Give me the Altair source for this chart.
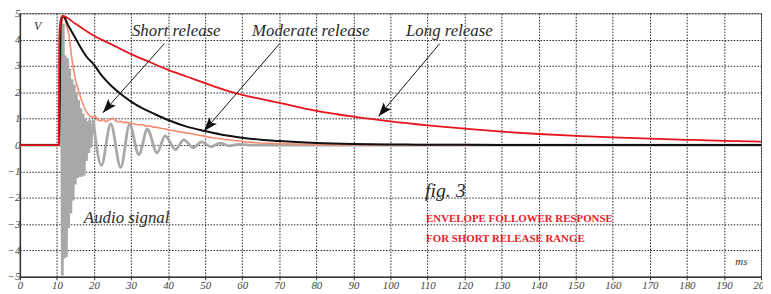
import altair as alt
import pandas as pd

# ---------------- data ----------------
# Long release (red)
t_red = [0, 10.5, 10.6, 11.0, 11.5, 15, 20, 25, 30, 35, 40, 45, 50, 55, 60, 65, 70, 80, 90,
         100, 110, 120, 130, 140, 150, 160, 170, 180, 190, 200]
v_red = [0, 0, 4.0, 4.75, 4.9, 4.6, 4.15, 3.8, 3.45, 3.15, 2.85, 2.6, 2.35, 2.1, 1.9, 1.75, 1.6,
         1.3, 1.08, 0.9, 0.75, 0.62, 0.51, 0.42, 0.35, 0.29, 0.24, 0.2, 0.16, 0.13]

# Moderate release (black)
t_blk = [0, 10.6, 11.0, 11.6, 12, 13, 14, 15, 16, 18, 20, 22, 25, 28, 30, 33, 36, 40, 45, 50,
         55, 60, 65, 70, 80, 90, 100, 120, 140, 200]
v_blk = [0, 0, 4.6, 4.9, 4.85, 4.55, 4.3, 4.05, 3.8, 3.35, 3.05, 2.65, 2.2, 1.85, 1.65, 1.4,
         1.2, 0.95, 0.7, 0.53, 0.38, 0.28, 0.2, 0.15, 0.08, 0.04, 0.02, 0.01, 0, 0]

# Short release (orange)
t_org = [0, 10.6, 11.0, 11.6, 12.2, 13.2, 14.1, 15.0, 16.3, 17.6, 18.5, 19.0, 19.6, 20.3, 21.0,
         21.8, 22.5, 23.2, 24.0, 25.0, 25.8, 26.5, 27.3, 28.0, 29.0, 30.0, 31.0, 32.0, 33.0,
         34.0, 35.0, 36.0, 37.0, 38.0, 39.0, 40.0, 42.0, 44.0, 46.0, 48.0, 50.0, 52.0, 55.0,
         58.0, 61.0, 65.0, 70.0, 80.0, 90.0, 200.0]
v_org = [0, 0, 4.5, 4.9, 4.75, 4.2, 3.2, 2.46, 1.84, 1.34, 1.15, 1.09, 1.05, 1.12, 0.95,
         0.92, 0.97, 0.88, 0.95, 1.02, 0.93, 0.88, 0.9, 0.85, 0.86, 0.82, 0.8, 0.77, 0.78,
         0.72, 0.73, 0.68, 0.67, 0.64, 0.62, 0.58, 0.53, 0.48, 0.44, 0.38, 0.33, 0.28, 0.22,
         0.17, 0.12, 0.08, 0.05, 0.02, 0.0, 0.0]

# Audio signal (grey): initial burst
t_burst = [0, 10.9, 11.2, 11.45, 11.7, 11.95, 12.25, 12.55, 12.85, 13.15, 13.45, 13.75, 14.05,
           14.35, 14.65, 14.95, 15.25, 15.55, 15.85, 16.15, 16.45, 16.75, 17.05, 17.35, 17.65,
           17.95, 18.25, 18.55, 18.85, 19.15, 19.5, 19.8]
v_burst = [0, 0, 4.85, -4.95, 4.6, -4.3, 3.4, -4.25, 3.3, -3.15, 2.9, -2.6, 2.5, -2.1, 2.3,
           -1.5, 2.0, -1.25, 1.7, -1.2, 1.4, -1.2, 1.2, -1.15, 1.0, -0.6, 0.9, -0.3, 0.95,
           -0.1, 0.5, 0.95]
# Audio signal (grey): ringing tail, peaks and troughs
t_ring = [19.8, 22.0, 24.5, 27.2, 29.6, 32.1, 34.4, 37.0, 39.2, 42.0, 44.2, 46.8, 49.0, 51.5,
          54.0, 56.5, 59.0, 62.0, 65.0, 200.0]
v_ring = [0.95, -0.77, 0.8, -0.85, 0.78, -0.36, 0.6, -0.3, 0.35, -0.17, 0.2, -0.1, 0.12, -0.06,
          0.07, -0.03, 0.03, 0.0, 0.0, 0.0]

# Arrows (start -> tip, data coordinates) and head angles
arrow_x = [39.0, 70.1, 113.3]
arrow_y = [3.85, 3.85, 3.85]
arrow_x2 = [22.4, 49.7, 96.8]
arrow_y2 = [1.23, 0.53, 1.09]
arrow_angle = [221.4, 220.8, 219.8]

# Annotations
ann_text = ["Short release", "Moderate release", "Long release", "Audio signal"]
ann_x = [42.2, 78.5, 115.9, 28.8]
ann_y = [4.33, 4.33, 4.33, -2.76]

red_text = ["ENVELOPE FOLLOWER RESPONSE", "FOR SHORT RELEASE RANGE"]
red_x = [109.6, 109.6]
red_y = [-2.8, -3.58]

x_ticks = list(range(0, 201, 10))
y_ticks = list(range(-5, 6))

FONT = "Liberation Serif"

# ---------------- chart ----------------
def df(t, v):
    return pd.DataFrame({"t": t, "v": v})

X = alt.X("t:Q", scale=alt.Scale(domain=[0, 200], nice=False, zero=False),
          axis=alt.Axis(values=x_ticks, title=None, tickSize=3, labelPadding=0,
                        labelOverlap=False, labelFlush=False, grid=True))
Y = alt.Y("v:Q", scale=alt.Scale(domain=[-5, 5], nice=False, zero=False),
          axis=alt.Axis(values=y_ticks, title=None, tickSize=0, labelPadding=0,
                        labelOverlap=False, labelFlush=False, grid=True))

burst = alt.Chart(df(t_burst, v_burst)).mark_line(color="#a8a8a8", strokeWidth=2.8).encode(
    x=X, y=Y, order="t:Q")
ring = alt.Chart(df(t_ring, v_ring)).mark_line(color="#a8a8a8", strokeWidth=2.8,
                                               interpolate="monotone").encode(x=X, y=Y, order="t:Q")
orange = alt.Chart(df(t_org, v_org)).mark_line(color="#f58b6c", strokeWidth=1.6).encode(
    x=X, y=Y, order="t:Q")
black = alt.Chart(df(t_blk, v_blk)).mark_line(color="#111111", strokeWidth=2,
                                              interpolate="monotone").encode(x=X, y=Y, order="t:Q")
red = alt.Chart(df(t_red, v_red)).mark_line(color="#e8141c", strokeWidth=1.8,
                                            interpolate="monotone").encode(x=X, y=Y, order="t:Q")

arr_df = pd.DataFrame({"t": arrow_x, "v": arrow_y, "t2": arrow_x2, "v2": arrow_y2,
                       "a": arrow_angle})
arrow_lines = alt.Chart(arr_df).mark_rule(color="#111111", strokeWidth=1).encode(
    x=X, y=Y, x2="t2:Q", y2="v2:Q")
head_df = pd.DataFrame({"t": arrow_x2, "v": arrow_y2, "a": arrow_angle})
arrow_heads = alt.Chart(head_df).mark_point(
    shape="M0,0 L0.36,1 L0,0.8 L-0.36,1 Z", filled=True, color="#111111", opacity=1,
    size=780, strokeWidth=0).encode(
    x=X, y=Y, angle=alt.Angle("a:Q", scale=None))

ann = alt.Chart(pd.DataFrame({"s": ann_text, "t": ann_x, "v": ann_y})).mark_text(
    font=FONT, fontStyle="italic", fontSize=17, color="#2a2a2a", align="center",
    baseline="middle").encode(x=X, y=Y, text="s:N")

v_lbl = alt.Chart(pd.DataFrame({"s": ["V"], "t": [4.8], "v": [4.5]})).mark_text(
    font=FONT, fontStyle="italic", fontSize=12, color="#333333", baseline="middle").encode(
    x=X, y=Y, text="s:N")
ms_lbl = alt.Chart(pd.DataFrame({"s": ["ms"], "t": [194.7], "v": [-4.44]})).mark_text(
    font=FONT, fontStyle="italic", fontSize=11, color="#333333", baseline="middle").encode(
    x=X, y=Y, text="s:N")
fig_lbl = alt.Chart(pd.DataFrame({"s": ["fig. 3"], "t": [109.3], "v": [-1.75]})).mark_text(
    font=FONT, fontStyle="italic", fontSize=20, color="#2a2a2a", align="left",
    baseline="middle").encode(x=X, y=Y, text="s:N")
red_lbl = alt.Chart(pd.DataFrame({"s": red_text, "t": red_x, "v": red_y})).mark_text(
    font=FONT, fontWeight="bold", fontSize=11, color="#e8202a", align="left",
    baseline="middle").encode(x=X, y=Y, text="s:N")

chart = alt.layer(
    burst, ring, orange, black, red, arrow_lines, arrow_heads,
    ann, v_lbl, ms_lbl, fig_lbl, red_lbl
).properties(
    width=748, height=266,
    autosize=alt.AutoSizeParams(type="none"),
    padding={"left": 12, "top": 4, "right": 2, "bottom": 16},
    background="white",
).configure_view(
    stroke="#888888", strokeWidth=1
).configure_axis(
    domainColor="#333333", domainWidth=1.5, tickColor="#333333", tickWidth=1,
    labelFont=FONT, labelFontStyle="italic", labelFontSize=11, labelColor="#444444",
    gridColor="#222222", gridDash=[1.5, 1.5], gridWidth=1, gridOpacity=1,
)

chart.save("out.html", embed_options={"renderer": "svg", "actions": False})
